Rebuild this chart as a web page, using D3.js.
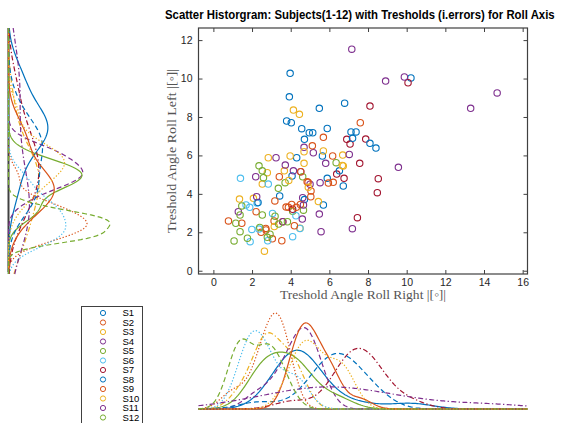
<!DOCTYPE html>
<html>
<head>
<meta charset="utf-8">
<script src="https://cdn.jsdelivr.net/npm/d3@7"></script>
<style>
  body { margin: 0; background: #fff; }
  svg { display: block; }
</style>
</head>
<body>
<svg id="chart" width="561" height="423"></svg>
<script>
// Subjects, their colours and line styles for the marginal density curves
const subjects = ["S1","S2","S3","S4","S5","S6","S7","S8","S9","S10","S11","S12"];
const colors = ["#0072BD","#D95319","#EDB120","#7E2F8E","#77AC30","#4DBEEE","#A2142F",
                "#0072BD","#D95319","#EDB120","#7E2F8E","#77AC30"];
const lineStyles = ["-", ":", "-.", "--", "-", ":", "-.", "--", "-", ":", "-.", "--"];

// Threshold angles per subject: right roll (x) and left roll (y), in degrees
const xS1  = [3.97,3.93,3.79,4.03,4.57,4.96,5.14,4.71,5.48,10.22,4.31,4.07,3.43,7.38];
const yS1  = [10.27,9.05,7.79,7.70,7.39,7.18,7.18,6.84,8.45,10.03,5.88,4.93,3.89,7.22];
const xS2  = [3.18,2.21,0.78,2.47,3.05,3.54,3.76,1.47,2.71,3.14,2.72,3.59,3.41,3.88];
const yS2  = [3.63,3.07,2.59,2.00,1.66,1.56,3.31,2.47,2.20,2.59,2.12,2.55,4.89,3.30];
const xS3  = [4.14,2.84,3.67,2.79,1.35,2.07,3.15,2.64,4.48,3.97,2.53];
const yS3  = [8.36,5.88,5.20,5.10,3.73,3.77,2.30,1.02,2.21,5.97,4.51];
const xS4  = [5.17,4.69,3.24,3.72,4.14,2.19,4.52,5.00,5.52,4.62];
const yS4  = [6.14,6.42,5.88,5.50,5.20,4.89,5.15,4.50,4.58,3.80];
const xS5  = [2.53,2.59,3.71,4.62,3.36,4.10,4.66,6.35,2.36];
const yS5  = [5.20,4.84,4.58,4.89,4.29,3.10,3.15,5.62,5.46];
const xS6  = [1.40,2.84,1.69,1.88,3.06,1.99,2.36,2.81,1.90,4.10,4.27,2.26,4.48];
const yS6  = [4.81,4.51,3.42,3.30,2.98,2.15,2.17,1.56,1.51,1.77,2.86,3.52,2.20];
const xS7  = [6.90,7.07,7.88,10.07,8.10,7.57,8.53,6.76,8.48,7.45,6.38,4.10];
const yS7  = [6.84,6.59,6.85,9.78,8.57,5.59,4.79,4.81,4.06,2.76,5.03,3.20];
const xS8  = [6.79,5.89,7.20,7.12,8.10,8.41,5.64,5.89,6.52,6.72,5.69,4.71,2.31];
const yS8  = [8.72,7.40,6.89,7.22,6.63,6.38,5.97,4.81,5.20,4.41,3.42,3.70,3.55];
const xS9  = [4.85,4.90,5.05,5.04,5.12,4.52,4.50,4.29,4.05,5.69,5.95,4.19,7.60,6.17,6.20];
const yS9  = [4.63,4.60,4.15,3.85,6.50,5.15,3.45,3.30,3.45,6.94,4.56,2.34,7.70,5.97,4.60];
const xS10 = [4.69,5.69,4.69,6.69,4.91,5.43,6.67,6.72,3.90,4.45];
const yS10 = [6.19,6.23,5.59,6.02,4.34,3.60,5.48,5.45,4.70,8.14];
const xS11 = [7.16,8.91,9.88,14.68,13.31,9.57,7.19,5.57,5.48,7.03,5.81,3.59,1.29,2.24,4.60,4.66];
const yS11 = [11.53,9.87,10.08,9.25,8.45,5.38,2.19,2.03,2.95,6.05,5.59,2.55,3.07,3.85,2.69,3.42];
const xS12 = [1.47,1.38,2.53,3.19,1.16,1.76,1.07,1.38,2.40,2.93,2.79,3.38,3.83];
const yS12 = [3.37,2.90,2.90,2.84,2.47,1.69,1.55,2.03,2.25,1.90,1.74,2.43,2.55];

const xValues = [xS1,xS2,xS3,xS4,xS5,xS6,xS7,xS8,xS9,xS10,xS11,xS12];
const yValues = [yS1,yS2,yS3,yS4,yS5,yS6,yS7,yS8,yS9,yS10,yS11,yS12];

// Axis limits and ticks
const xLimits = [-0.77, 16.25];
const yLimits = [-0.17, 12.63];
const xTicks = [0,2,4,6,8,10,12,14,16];
const yTicks = [0,2,4,6,8,10,12];

const titleText = "Scatter Historgram: Subjects(1-12) with Tresholds (i.errors) for Roll Axis";
const xLabelText = "Treshold Angle Roll Right |[\u25E6]|";
const yLabelText = "Treshold Angle Roll Left |[\u25E6]|";

const svg = d3.select("#chart");

// Layout of the three panels
const main = { left: 198.5, right: 527.5, top: 28, bottom: 274 };
const bottomPanel = { base: 409, peak: 313 };
const leftPanel = { base: 8.5, peak: 110 };

const x = d3.scaleLinear().domain(xLimits).range([main.left, main.right]);
const y = d3.scaleLinear().domain(yLimits).range([main.bottom, main.top]);

const dashFor = s => s === "--" ? "5,3" : s === ":" ? "1.3,1.9" : s === "-." ? "5,2.4,1.3,2.4" : null;

// Gaussian kernel density with the normal-reference bandwidth
function kde(values, grid) {
  const n = values.length;
  const sig = d3.deviation(values) || 1;
  const bw = 1.06 * sig * Math.pow(n, -0.2);
  const c = 1 / (n * bw * Math.sqrt(2 * Math.PI));
  return grid.map(g => [g, c * d3.sum(values, v => Math.exp(-0.5 * ((g - v) / bw) ** 2))]);
}

const xGrid = d3.range(0, 201).map(i => xLimits[0] + (xLimits[1] - xLimits[0]) * i / 200);
const yGrid = d3.range(0, 201).map(i => yLimits[0] + (yLimits[1] - yLimits[0]) * i / 200);
const xDens = xValues.map(v => kde(v, xGrid));
const yDens = yValues.map(v => kde(v, yGrid));

const dxMax = d3.max(xDens, d => d3.max(d, p => p[1]));
const dyMax = d3.max(yDens, d => d3.max(d, p => p[1]));
const dX = d3.scaleLinear().domain([0, dxMax]).range([bottomPanel.base, bottomPanel.peak]);
const dY = d3.scaleLinear().domain([0, dyMax]).range([leftPanel.base, leftPanel.peak]);

// Squeeze a text horizontally so it spans a given width
function fitWidth(sel, x0, width) {
  const w = sel.node().getComputedTextLength();
  sel.attr("transform", `translate(${x0},0) scale(${width / w},1)`);
}

// ---------- title ----------
const title = svg.append("text")
  .attr("x", 0).attr("y", 19.5)
  .style("font-family", "'Liberation Sans', Arial, sans-serif")
  .style("font-weight", "bold").style("font-size", "12px").style("fill", "#000")
  .text(titleText);
fitWidth(title, 165, 390);

// ---------- scatter axes ----------
const axisColor = "#404040";
const tickFont = "'Liberation Sans', Arial, sans-serif";

const gx = svg.append("g").attr("transform", `translate(0,${main.bottom})`)
  .call(d3.axisBottom(x).tickValues(xTicks).tickSize(-4).tickPadding(5));
const gxTop = svg.append("g").attr("transform", `translate(0,${main.top})`)
  .call(d3.axisTop(x).tickValues(xTicks).tickSize(-4).tickFormat(""));
const gy = svg.append("g").attr("transform", `translate(${main.left},0)`)
  .call(d3.axisLeft(y).tickValues(yTicks).tickSize(-4).tickPadding(6));
const gyRight = svg.append("g").attr("transform", `translate(${main.right},0)`)
  .call(d3.axisRight(y).tickValues(yTicks).tickSize(-4).tickFormat(""));

[gx, gxTop, gy, gyRight].forEach(g => {
  g.select(".domain").remove();
  g.selectAll("line").attr("stroke", axisColor).attr("stroke-width", 1);
  g.selectAll("text").style("font-family", tickFont).style("font-size", "10.5px").attr("fill", "#262626");
});

svg.append("rect")
  .attr("x", main.left).attr("y", main.top)
  .attr("width", main.right - main.left).attr("height", main.bottom - main.top)
  .attr("fill", "none").attr("stroke", axisColor).attr("stroke-width", 1.2);

// axis labels
svg.append("text")
  .attr("x", (main.left + main.right) / 2).attr("y", 299)
  .attr("text-anchor", "middle")
  .attr("textLength", 166).attr("lengthAdjust", "spacingAndGlyphs")
  .style("font-family", "'Liberation Serif', 'Times New Roman', serif")
  .style("font-size", "13.5px").style("fill", "#555")
  .text(xLabelText);

svg.append("text")
  .attr("transform", `translate(176,${(main.top + main.bottom) / 2}) rotate(-90)`)
  .attr("text-anchor", "middle")
  .attr("textLength", 164).attr("lengthAdjust", "spacingAndGlyphs")
  .style("font-family", "'Liberation Serif', 'Times New Roman', serif")
  .style("font-size", "13.5px").style("fill", "#555")
  .text(yLabelText);

// ---------- scatter points ----------
const pts = svg.append("g");
subjects.forEach((s, i) => {
  pts.selectAll(null)
    .data(d3.zip(xValues[i], yValues[i]))
    .join("circle")
    .attr("cx", d => x(d[0])).attr("cy", d => y(d[1]))
    .attr("r", 3.2)
    .attr("fill", "none").attr("stroke", colors[i]).attr("stroke-width", 1.1);
});

// ---------- bottom marginal: density of right-roll thresholds ----------
const gb = svg.append("g");
gb.append("line")
  .attr("x1", main.left + 2).attr("x2", main.right - 2)
  .attr("y1", bottomPanel.base).attr("y2", bottomPanel.base)
  .attr("stroke", "#808080").attr("stroke-width", 2);
const lineB = d3.line().x(p => x(p[0])).y(p => dX(p[1]));
subjects.forEach((s, i) => {
  gb.append("path")
    .attr("d", lineB(xDens[i]))
    .attr("fill", "none").attr("stroke", colors[i]).attr("stroke-width", 1.2)
    .attr("stroke-dasharray", dashFor(lineStyles[i]));
});

// ---------- left marginal: density of left-roll thresholds ----------
const gl = svg.append("g");
gl.append("line")
  .attr("x1", leftPanel.base).attr("x2", leftPanel.base)
  .attr("y1", main.top).attr("y2", main.bottom - 2)
  .attr("stroke", "#404040").attr("stroke-width", 2);
const lineL = d3.line().x(p => dY(p[1])).y(p => y(p[0]));
subjects.forEach((s, i) => {
  gl.append("path")
    .attr("d", lineL(yDens[i]))
    .attr("fill", "none").attr("stroke", colors[i]).attr("stroke-width", 1.2)
    .attr("stroke-dasharray", dashFor(lineStyles[i]));
});

// ---------- legend ----------
const lg = svg.append("g");
lg.append("rect")
  .attr("x", 81.5).attr("y", 306.5).attr("width", 61).attr("height", 130)
  .attr("fill", "#fff").attr("stroke", "#404040").attr("stroke-width", 1);
const rowY = d3.scaleLinear().domain([0, subjects.length - 1]).range([313, 417.5]);
subjects.forEach((s, i) => {
  lg.append("circle")
    .attr("cx", 103).attr("cy", rowY(i)).attr("r", 2.6)
    .attr("fill", "none").attr("stroke", colors[i]).attr("stroke-width", 1);
  lg.append("text")
    .attr("x", 122.5).attr("y", rowY(i)).attr("dy", "0.35em")
    .style("font-family", tickFont).style("font-size", "9.5px").style("fill", "#000")
    .text(s);
});
</script>
</body>
</html>
